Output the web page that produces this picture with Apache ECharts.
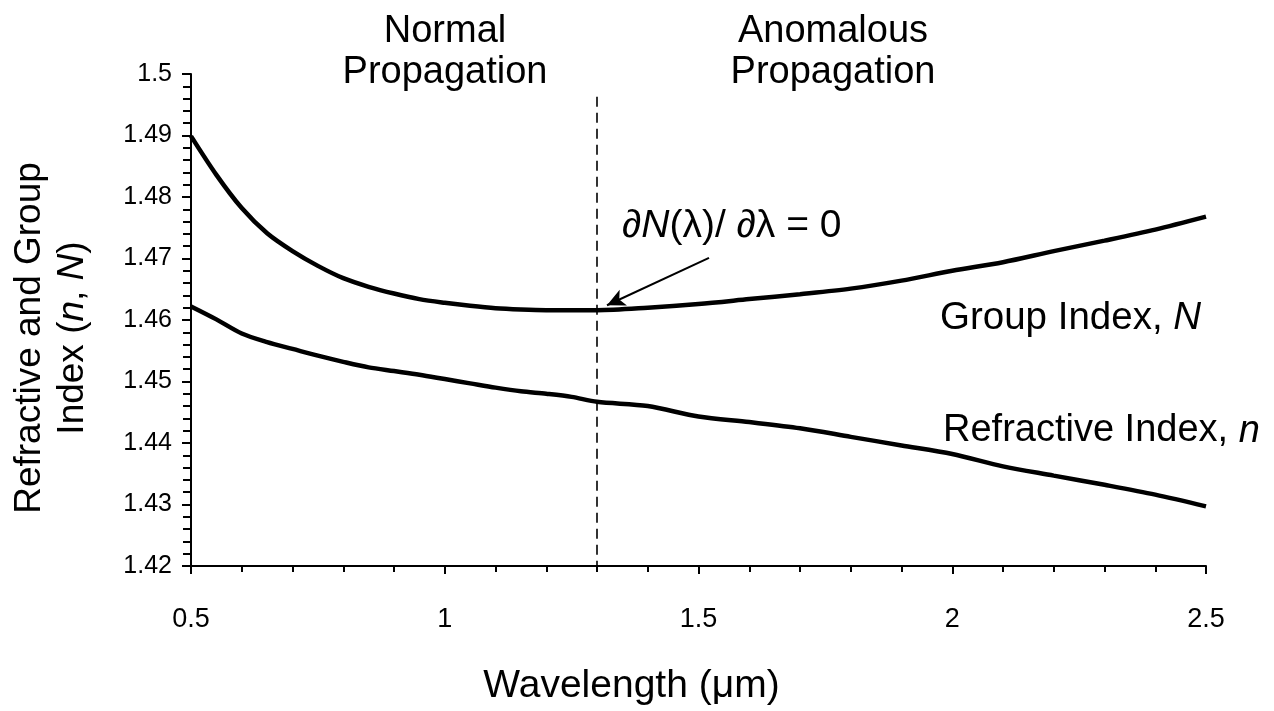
<!DOCTYPE html>
<html>
<head>
<meta charset="utf-8">
<script src="https://cdn.jsdelivr.net/npm/echarts@6/dist/echarts.min.js"></script>
<style>
html,body{margin:0;padding:0;background:#fff;}
#chart{width:1274px;height:711px;}
</style>
</head>
<body>
<div id="chart"></div>
<script>
// Wavelength (µm)
const wavelengths = [0.5,0.55,0.6,0.65,0.7,0.75,0.8,0.85,0.9,0.95,1.0,1.05,1.1,1.15,1.2,1.25,1.3,1.4,1.5,1.6,1.7,1.8,1.9,2.0,2.1,2.2,2.3,2.4,2.5];
// Group index N
const groupIndex = [1.4899,1.4836,1.4782,1.4741,1.4712,1.4688,1.4668,1.4654,1.4643,1.4634,1.4628,1.4623,1.4619,1.4617,1.4616,1.4616,1.4616,1.4620,1.4626,1.4634,1.4642,1.4651,1.4664,1.4680,1.4694,1.4712,1.4729,1.4747,1.4768];
// Refractive index n
const refractiveIndex = [1.4622,1.4601,1.4578,1.4564,1.4553,1.4542,1.4532,1.4523,1.4517,1.4511,1.4504,1.4497,1.4490,1.4484,1.4480,1.4475,1.4467,1.4460,1.4443,1.4434,1.4424,1.4410,1.4396,1.4382,1.4362,1.4347,1.4332,1.4316,1.4297];
// Zero-dispersion wavelength (dashed divider)
const zeroDispersion = 1.3;
const dividerTop = 1.4963;
// Annotation arrow (tail -> head), in data units
const arrowTail = [1.5207, 1.4701];
const arrowHead = [1.3197, 1.4624];

const FONT = '"Liberation Sans", Arial, Helvetica, sans-serif';
const chart = echarts.init(document.getElementById('chart'), null, {renderer: 'canvas'});

const zip = (xs, ys) => xs.map((x, i) => [x, ys[i]]);

const option = {
  animation: false,
  backgroundColor: '#ffffff',
  grid: {left: 191, right: 68, top: 74, bottom: 139, containLabel: false},
  xAxis: {
    type: 'value', min: 0.5, max: 2.5, interval: 0.5,
    axisLine: {show: true, onZero: false, lineStyle: {color: '#000', width: 2}},
    axisTick: {show: true, inside: false, length: 8, lineStyle: {color: '#000', width: 2}},
    minorTick: {show: true, splitNumber: 5, length: 6, lineStyle: {color: '#000', width: 2}},
    splitLine: {show: false},
    axisLabel: {color: '#000', fontFamily: FONT, fontSize: 27, margin: 40},
    name: 'Wavelength (μm)',
    nameLocation: 'middle',
    nameGap: 101,
    nameTextStyle: {color: '#000', fontFamily: FONT, fontSize: 39, padding: [0, 134, 0, 0]}
  },
  yAxis: {
    type: 'value', min: 1.42, max: 1.5, interval: 0.01,
    axisLine: {show: true, onZero: false, lineStyle: {color: '#000', width: 2}},
    axisTick: {show: true, inside: false, length: 9, lineStyle: {color: '#000', width: 2}},
    minorTick: {show: true, splitNumber: 5, length: 8, lineStyle: {color: '#000', width: 2}},
    splitLine: {show: false},
    axisLabel: {color: '#000', fontFamily: FONT, fontSize: 25, margin: 19},
    name: '{a|Refractive and Group}\n{a|Index (}{i|n}{a|, }{i|N}{a|)}',
    nameLocation: 'middle',
    nameRotate: 90,
    nameGap: 97,
    nameTextStyle: {
      color: '#000', fontFamily: FONT, fontSize: 37, lineHeight: 43, align: 'center',
      padding: [0, 36, 0, 0],
      rich: {
        a: {fontFamily: FONT, fontSize: 37, color: '#000', lineHeight: 43},
        i: {fontFamily: FONT, fontSize: 37, color: '#000', fontStyle: 'italic', lineHeight: 43}
      }
    }
  },
  series: [
    {
      name: 'Group Index, N', type: 'line', data: zip(wavelengths, groupIndex),
      showSymbol: false, smooth: 0.3,
      lineStyle: {color: '#000', width: 4.5}
    },
    {
      name: 'Refractive Index, n', type: 'line', data: zip(wavelengths, refractiveIndex),
      showSymbol: false, smooth: 0.3,
      lineStyle: {color: '#000', width: 4.5},
      markLine: {
        silent: true, animation: false,
        data: [
          [
            {coord: [zeroDispersion, dividerTop], symbol: 'none'},
            {coord: [zeroDispersion, 1.42], symbol: 'none'}
          ],
          [
            {coord: arrowTail, symbol: 'none', lineStyle: {type: 'solid', width: 2, color: '#000'}},
            {coord: arrowHead, symbol: 'arrow', symbolSize: [13, 18]}
          ]
        ],
        label: {show: false},
        lineStyle: {color: '#000', type: [10, 6], width: 1.6}
      }
    }
  ],
  graphic: [
    {type: 'text', x: 445, y: 11, style: {text: 'Normal\nPropagation', font: '38px ' + FONT, fill: '#000', textAlign: 'center', lineHeight: 41}},
    {type: 'text', x: 833, y: 11, style: {text: 'Anomalous\nPropagation', font: '38px ' + FONT, fill: '#000', textAlign: 'center', lineHeight: 41}},
    {type: 'text', left: 940, top: 299, style: {
      rich: {a: {font: '38.5px ' + FONT, fill: '#000'}, i: {font: 'italic 38.5px ' + FONT, fill: '#000'}},
      text: '{a|Group Index, }{i|N}'}},
    {type: 'text', left: 943, top: 412, style: {
      rich: {a: {font: '38px ' + FONT, fill: '#000'}, i: {font: 'italic 38px ' + FONT, fill: '#000'}},
      text: '{a|Refractive Index, }{i|n}'}},
    {type: 'text', left: 622, top: 207, style: {
      rich: {a: {font: '39px ' + FONT, fill: '#000'}, i: {font: 'italic 39px ' + FONT, fill: '#000'}},
      text: '{a|∂}{i|N}{a|(λ)/ ∂λ = 0}'}}
  ]
};
chart.setOption(option);
</script>
</body>
</html>
